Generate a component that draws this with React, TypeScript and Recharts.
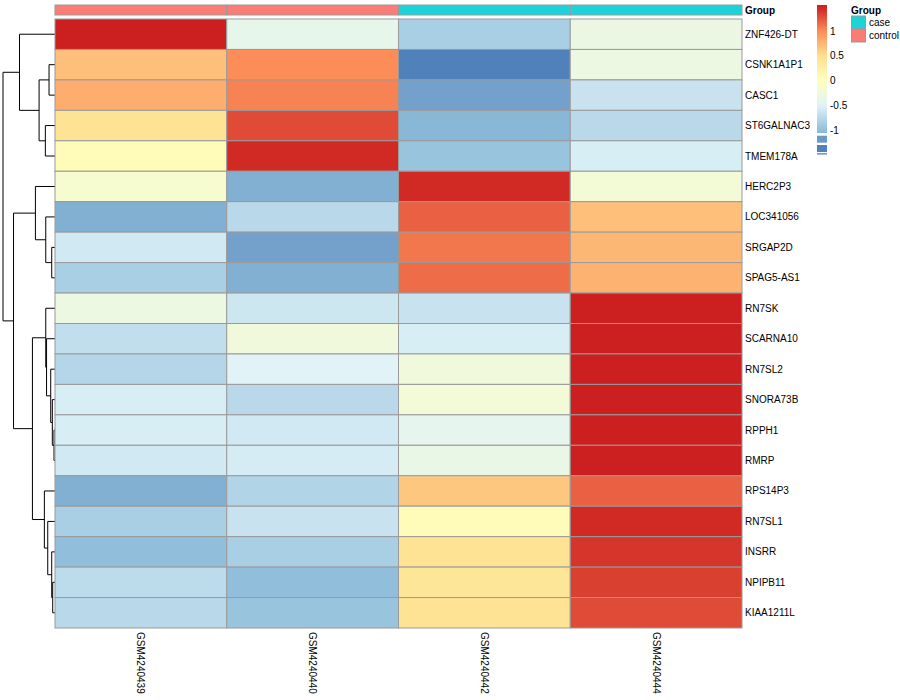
import React from "react";
import { ScatterChart, Scatter, XAxis, YAxis } from "recharts";

// rows in dendrogram order
const genes = [
  "ZNF426-DT", "CSNK1A1P1", "CASC1", "ST6GALNAC3", "TMEM178A",
  "HERC2P3", "LOC341056", "SRGAP2D", "SPAG5-AS1", "RN7SK",
  "SCARNA10", "RN7SL2", "SNORA73B", "RPPH1", "RMRP",
  "RPS14P3", "RN7SL1", "INSRR", "NPIPB11", "KIAA1211L",
];
const samples = ["GSM4240439", "GSM4240440", "GSM4240442", "GSM4240444"];
const sampleGroup = ["control", "control", "case", "case"];

// row z-scores, one array per sample
const gsm4240439 = [1.5, 0.7, 0.8, 0.45, 0.05, -0.15, -1.1, -0.6, -0.85, -0.3, -0.7, -0.78, -0.55, -0.55, -0.6, -1.1, -0.85, -1.0, -0.72, -0.75];
const gsm4240440 = [-0.38, 1.0, 1.05, 1.3, 1.45, -1.1, -0.75, -1.2, -1.1, -0.62, -0.25, -0.48, -0.75, -0.6, -0.57, -0.8, -0.65, -0.85, -1.0, -0.95];
const gsm4240442 = [-0.85, -1.42, -1.2, -1.05, -0.95, 1.45, 1.2, 1.1, 1.15, -0.65, -0.55, -0.25, -0.2, -0.4, -0.35, 0.65, 0.05, 0.45, 0.4, 0.45];
const gsm4240444 = [-0.32, -0.3, -0.65, -0.75, -0.55, -0.2, 0.7, 0.75, 0.78, 1.5, 1.5, 1.5, 1.5, 1.5, 1.5, 1.2, 1.45, 1.4, 1.35, 1.3];
const columns = [gsm4240439, gsm4240440, gsm4240442, gsm4240444];

// hclust style merges: negative = leaf (row index + 1), positive = earlier merge
const merges: [number, number, number][] = [
  [-2, -3, 0.6],
  [-4, -5, 0.97],
  [1, 2, 1.6],
  [-1, 3, 3.57],
  [-8, -9, 0.33],
  [-7, 5, 0.93],
  [-6, 6, 1.97],
  [-14, -15, 0.1],
  [-13, 8, 0.27],
  [-12, 9, 0.43],
  [-11, 10, 0.85],
  [-10, 11, 0.93],
  [-19, -20, 0.23],
  [-18, 13, 0.33],
  [-17, 14, 0.73],
  [-16, 15, 1.07],
  [12, 16, 2.27],
  [7, 17, 4.17],
  [4, 18, 5.23],
];

const legendTicks = [1, 0.5, 0, -0.5, -1];
const groupLevels = ["case", "control"];
const groupColors: Record<string, string> = { case: "#1dd3da", control: "#f97c75" };

const FONT = '"Liberation Sans", Arial, Helvetica, sans-serif';
const LEFT = 55;
const RIGHT = 742;
const TOP = 19;
const BOTTOM = 628;
const cellW = (RIGHT - LEFT) / samples.length;
const cellH = (BOTTOM - TOP) / genes.length;

const palette = ["#4575B4", "#91BFDB", "#E0F3F8", "#FFFFBF", "#FEE090", "#FC8D59", "#CC1F1F"];
const zMin = -1.5;
const zMax = 1.5;

function hex(c: string) {
  return [1, 3, 5].map((i) => parseInt(c.slice(i, i + 2), 16));
}
function colorFor(v: number) {
  const t = Math.max(0, Math.min(1, (v - zMin) / (zMax - zMin))) * (palette.length - 1);
  const i = Math.min(palette.length - 2, Math.floor(t));
  const f = t - i;
  const a = hex(palette[i]);
  const b = hex(palette[i + 1]);
  const m = a.map((x, k) => Math.round(x + (b[k] - x) * f));
  return `rgb(${m[0]},${m[1]},${m[2]})`;
}

const cells = genes.flatMap((g, r) =>
  samples.map((s, c) => ({ col: c, row: r, z: columns[c][r] }))
);
const groupCells = samples.map((s, c) => ({ col: c, y: 0.5, group: sampleGroup[c] }));

// dendrogram geometry from merges
function nodePos(id: number): number {
  if (id < 0) return -id - 1;
  const [a, b] = merges[id - 1];
  return (nodePos(a) + nodePos(b)) / 2;
}
function nodeH(id: number): number {
  return id < 0 ? 0 : merges[id - 1][2];
}
const dendroSegs = merges.map(([a, b, h]) => [
  { h: nodeH(a), y: nodePos(a) },
  { h, y: nodePos(a) },
  { h, y: nodePos(b) },
  { h: nodeH(b), y: nodePos(b) },
]);

const HeatCell = (props: any) => {
  const { cx, cy, payload } = props;
  return (
    <rect
      x={cx - cellW / 2}
      y={cy - cellH / 2}
      width={cellW}
      height={cellH}
      fill={colorFor(payload.z)}
      stroke="#9a9a9a"
      strokeWidth={1}
    />
  );
};

const GroupCell = (props: any) => {
  const { cx, cy, payload } = props;
  return (
    <rect
      x={cx - cellW / 2}
      y={cy - 5}
      width={cellW}
      height={10}
      fill={groupColors[payload.group]}
      stroke="#9a9a9a"
      strokeWidth={1}
    />
  );
};

const noDot = () => <g />;

function ColorLegend() {
  // value -> y mapping
  const yOf = (v: number) => 80.7 - 49.5 * v;
  const top = 5;
  const gradBottom = 133;
  const stops = [];
  for (let k = 0; k <= 30; k++) {
    const y = top + ((gradBottom - top) * k) / 30;
    const v = (80.7 - y) / 49.5;
    stops.push(<stop key={k} offset={`${(k / 30) * 100}%`} stopColor={colorFor(v)} />);
  }
  return (
    <svg width={900} height={160} style={{ position: "absolute", left: 0, top: 0 }}>
      <defs>
        <linearGradient id="zgrad" x1="0" y1="0" x2="0" y2="1">
          {stops}
        </linearGradient>
      </defs>
      <rect x={817} y={top} width={10} height={gradBottom - top} fill="url(#zgrad)" />
      <rect x={817} y={135.7} width={10} height={7} fill={colorFor(-1.25)} />
      <rect x={817} y={145} width={10} height={7} fill={colorFor(-1.42)} />
      <rect x={817} y={153.3} width={10} height={1.2} fill={colorFor(-1.5)} />
      {legendTicks.map((v) => (
        <text key={v} x={830} y={yOf(v)} dy="0.35em" fontSize={10} fontFamily={FONT} fill="#000">
          {v}
        </text>
      ))}
      <text x={851} y={10} dy="0.35em" fontSize={10} fontWeight="bold" fontFamily={FONT} fill="#000">
        Group
      </text>
      {groupLevels.map((g, i) => (
        <g key={g}>
          <rect x={851.5} y={16 + i * 13} width={14} height={13} fill={groupColors[g]} stroke="#9a9a9a" strokeWidth={1} />
          <text x={869} y={22.5 + i * 13} dy="0.35em" fontSize={10} fontFamily={FONT} fill="#000">
            {g}
          </text>
        </g>
      ))}
    </svg>
  );
}

export default function App() {
  return (
    <div
      style={{
        position: "absolute",
        left: 0,
        top: 0,
        width: 900,
        height: 700,
        background: "#fff",
        fontFamily: FONT,
      }}
    >
      {/* dendrogram */}
      <div style={{ position: "absolute", left: 0, top: 0 }}>
        <ScatterChart width={60} height={700} margin={{ top: TOP, bottom: 700 - BOTTOM, left: 3, right: 60 - LEFT }}>
          <XAxis type="number" dataKey="h" domain={[0, merges[merges.length - 1][2]]} reversed hide />
          <YAxis type="number" dataKey="y" domain={[-0.5, genes.length - 0.5]} reversed hide />
          {dendroSegs.map((seg, i) => (
            <Scatter
              key={i}
              data={seg}
              line={{ stroke: "#000", strokeWidth: 1 }}
              shape={noDot}
              isAnimationActive={false}
            />
          ))}
        </ScatterChart>
      </div>

      {/* group annotation bar */}
      <div style={{ position: "absolute", left: 0, top: 0 }}>
        <ScatterChart width={900} height={20} margin={{ top: 5, bottom: 5, left: LEFT, right: 8 }}>
          <XAxis type="number" dataKey="col" domain={[-0.5, samples.length - 0.5]} hide />
          <YAxis
            type="number"
            dataKey="y"
            orientation="right"
            domain={[0, 1]}
            ticks={[0.5]}
            width={900 - RIGHT - 8}
            axisLine={false}
            tickLine={false}
            tickSize={0}
            tickMargin={3}
            tick={(p: any) => (
              <text x={p.x} y={p.y} dy="0.35em" fontSize={10} fontWeight="bold" fontFamily={FONT} fill="#000" textAnchor="start">
                Group
              </text>
            )}
          />
          <Scatter data={groupCells} shape={GroupCell} isAnimationActive={false} />
        </ScatterChart>
      </div>

      {/* heatmap */}
      <div style={{ position: "absolute", left: 0, top: 0 }}>
        <ScatterChart width={900} height={700} margin={{ top: TOP, bottom: 12, left: LEFT, right: 8 }}>
          <XAxis
            type="number"
            dataKey="col"
            domain={[-0.5, samples.length - 0.5]}
            ticks={samples.map((_, i) => i)}
            interval={0}
            height={700 - BOTTOM - 12}
            axisLine={false}
            tickLine={false}
            tickSize={0}
            tickMargin={4}
            tick={(p: any) => (
              <text
                x={p.x}
                y={p.y}
                transform={`rotate(90, ${p.x}, ${p.y})`}
                dy="0.35em"
                fontSize={10}
                fontFamily={FONT}
                fill="#000"
                textAnchor="start"
              >
                {samples[p.payload.value]}
              </text>
            )}
          />
          <YAxis
            type="number"
            dataKey="row"
            orientation="right"
            domain={[-0.5, genes.length - 0.5]}
            reversed
            ticks={genes.map((_, i) => i)}
            interval={0}
            width={900 - RIGHT - 8}
            axisLine={false}
            tickLine={false}
            tickSize={0}
            tickMargin={3}
            tick={(p: any) => (
              <text x={p.x} y={p.y} dy="0.35em" fontSize={10} fontFamily={FONT} fill="#000" textAnchor="start">
                {genes[p.payload.value]}
              </text>
            )}
          />
          <Scatter data={cells} shape={HeatCell} isAnimationActive={false} />
        </ScatterChart>
      </div>

      <ColorLegend />
    </div>
  );
}
